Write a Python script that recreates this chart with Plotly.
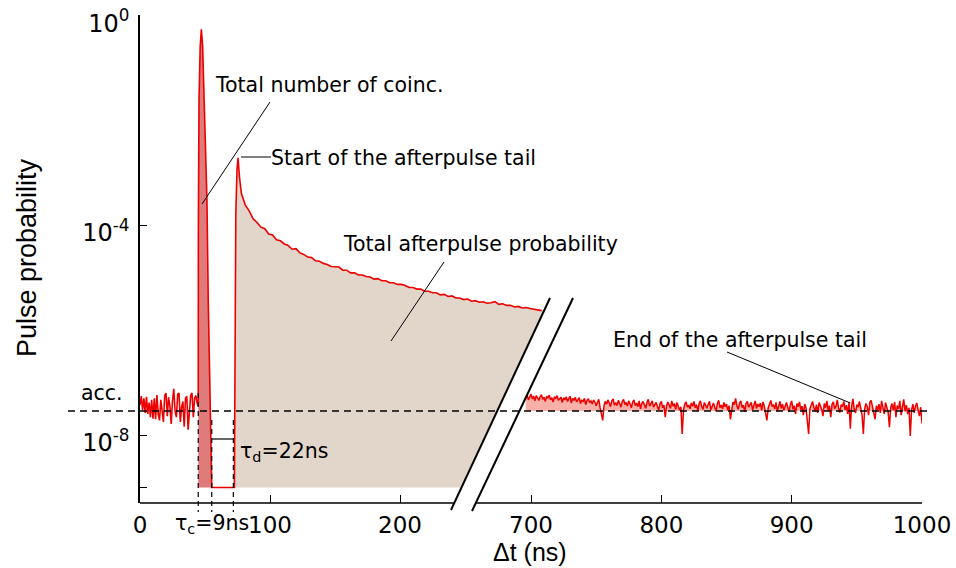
import plotly.graph_objects as go

# ---------------- data (log10 of the pulse probability) ----------------
# accidental background before the detection peak, Δt in ns
t_pre = list(range(0, 45))
logp_pre = [-7.43, -7.26, -7.52, -7.30, -7.58, -7.27, -7.60, -7.38, -7.66, -7.33,
            -7.69, -7.30, -7.70, -7.24, -7.60, -7.72, -7.33, -7.58, -7.75, -7.25,
            -7.20, -7.64, -7.28, -7.45, -7.79, -7.35, -7.12, -7.55, -7.66, -7.22,
            -7.20, -7.75, -7.47, -7.36, -7.84, -7.30, -7.26, -7.90, -7.62, -7.24,
            -7.20, -7.66, -7.30, -7.25, -7.40]

# coincidence peak
t_coinc = [44.8, 44.9, 45.4, 46.3, 47.2, 48.2, 49.2, 50.4, 51.5, 52.5, 53.8, 55.2]
logp_coinc = [-7.45, -4.00, -1.60, -0.60, -0.27, -0.60, -1.60, -2.60, -3.52, -5.43,
              -7.20, -9.00]

# dead time (no counts, shown on the floor)
t_dead = [55.2, 72.6]
logp_dead = [-9.0, -9.0]

# afterpulse tail
t_tail = [72.6, 73.1, 73.7, 74.6, 75.4, 76.5, 78, 81, 84, 87, 90, 93, 96, 99, 102, 105,
          108, 111, 114, 117, 120, 123, 126, 129, 132, 135, 138, 141, 144, 147, 150,
          153, 156, 159, 162, 165, 168, 171, 174, 177, 180, 183, 186, 189, 192, 195,
          198, 201, 204, 207, 210, 213, 216, 219, 222, 225, 228, 231, 234, 237, 240,
          243, 246, 249, 252, 255, 258, 261, 264, 267, 270, 273, 276, 279, 282, 285,
          288, 291, 294, 297, 300, 303, 306, 309]
logp_tail = [-9.00, -5.50, -3.80, -2.95, -2.72, -3.08, -3.40, -3.62, -3.73, -3.88,
             -3.95, -4.04, -4.07, -4.17, -4.19, -4.28, -4.30, -4.36, -4.39, -4.46,
             -4.45, -4.53, -4.56, -4.61, -4.62, -4.68, -4.69, -4.73, -4.75, -4.79,
             -4.80, -4.80, -4.86, -4.86, -4.91, -4.91, -4.95, -4.95, -4.98, -4.99,
             -5.03, -5.02, -5.06, -5.06, -5.10, -5.10, -5.13, -5.13, -5.15, -5.19,
             -5.19, -5.22, -5.22, -5.26, -5.26, -5.29, -5.29, -5.33, -5.32, -5.36,
             -5.35, -5.39, -5.39, -5.42, -5.41, -5.45, -5.44, -5.47, -5.46, -5.49,
             -5.48, -5.46, -5.51, -5.50, -5.53, -5.53, -5.56, -5.55, -5.58, -5.57,
             -5.59, -5.60, -5.61, -5.63]

# background far after the pulse, 1 ns bins
t_late = list(range(696, 1001))
logp_late = [
    -7.28, -7.24, -7.33, -7.27, -7.22, -7.31, -7.26, -7.35, -7.25, -7.29,
    -7.34, -7.27, -7.23, -7.32, -7.28, -7.36, -7.26, -7.30, -7.24, -7.33,
    -7.29, -7.37, -7.27, -7.31, -7.25, -7.34, -7.30, -7.28, -7.38, -7.29,
    -7.33, -7.27, -7.36, -7.31, -7.26, -7.39, -7.30, -7.34, -7.28, -7.37,
    -7.32, -7.29, -7.40, -7.33, -7.36, -7.30, -7.42, -7.34, -7.31, -7.38,
    -7.35, -7.41, -7.33, -7.37, -7.44, -7.36, -7.32, -7.48, -7.58, -7.72,
    -7.45, -7.36, -7.41, -7.33, -7.39, -7.46, -7.35, -7.31, -7.43, -7.38,
    -7.44, -7.34, -7.40, -7.47, -7.36, -7.32, -7.42, -7.38, -7.45, -7.35,
    -7.41, -7.48, -7.37, -7.33, -7.44, -7.39, -7.46, -7.35, -7.50, -7.40,
    -7.36, -7.43, -7.49, -7.38, -7.32, -7.45, -7.40, -7.35, -7.47, -7.42,
    -7.38, -7.46, -7.52, -7.40, -7.36, -7.48, -7.43, -7.66, -7.44, -7.37,
    -7.42, -7.49, -7.35, -7.45, -7.40, -7.51, -7.38, -7.44, -7.53, -7.46,
    -7.98, -7.52, -7.41, -7.37, -7.47, -7.43, -7.50, -7.39, -7.45, -7.36,
    -7.48, -7.42, -7.54, -7.40, -7.35, -7.46, -7.51, -7.38, -7.44, -7.49,
    -7.41, -7.36, -7.52, -7.45, -7.39, -7.47, -7.55, -7.40, -7.34, -7.48,
    -7.43, -7.50, -7.38, -7.46, -7.41, -7.53, -7.44, -7.70, -7.47, -7.37,
    -7.42, -7.30, -7.45, -7.51, -7.39, -7.35, -7.48, -7.43, -7.56, -7.40,
    -7.36, -7.47, -7.42, -7.38, -7.52, -7.44, -7.35, -7.49, -7.41, -7.46,
    -7.39, -7.53, -7.37, -7.45, -7.60, -7.72, -7.48, -7.40, -7.34, -7.46,
    -7.42, -7.50, -7.38, -7.55, -7.44, -7.36, -7.49, -7.41, -7.53, -7.45,
    -7.38, -7.47, -7.56, -7.42, -7.35, -7.51, -7.44, -7.60, -7.40, -7.46,
    -7.37, -7.52, -7.45, -7.62, -7.41, -7.48, -7.70, -7.98, -7.50, -7.43,
    -7.36, -7.47, -7.55, -7.42, -7.58, -7.38, -7.46, -7.51, -7.64, -7.40,
    -7.48, -7.35, -7.53, -7.44, -7.66, -7.41, -7.37, -7.50, -7.45, -7.33,
    -7.49, -7.57, -7.42, -7.46, -7.36, -7.52, -7.43, -7.60, -7.38, -7.88,
    -7.45, -7.31, -7.50, -7.58, -7.42, -7.47, -7.36, -7.53, -7.62, -7.98,
    -7.50, -7.40, -7.46, -7.62, -7.37, -7.34, -7.48, -7.55, -7.70, -7.44,
    -7.52, -7.41, -7.58, -7.35, -7.47, -7.60, -7.38, -7.45, -7.56, -7.85,
    -7.48, -7.40, -7.53, -7.37, -7.66, -7.44, -7.50, -7.35, -7.62, -7.46,
    -7.32, -7.55, -7.43, -7.60, -7.48, -8.02, -7.52, -7.41, -7.58, -7.45,
    -7.39, -7.52, -7.64, -7.47, -7.78]

LOG_ACC = -7.543      # accidental level
LOG_FLOOR = -9.0      # floor used for "no counts"
TAU_C_EDGES = [44.8, 55.2]   # coincidence window
TAU_D_END = 71.8             # end of dead time

y_ticks = [1, 1e-4, 1e-8, 1e-9]
y_ticktext = ["10<sup>0</sup>", "10<sup>-4</sup>", "10<sup>-8</sup>", ""]
x_left_ticks = [0, 100, 200]
x_right_ticks = [700, 800, 900, 1000]

# ---------------- geometry of the figure ----------------
W, H = 956, 568
PL, PR, PT, PB = 140, 922, 15, 503          # plot area in pixels
Y_RANGE = [-9.295, 0.0]
LEFT_END_PX = 550
RIGHT_START_PX = 475.8
LEFT_RANGE = [0, (LEFT_END_PX - PL) / 1.3]
RIGHT_RANGE = [1000 - (PR - RIGHT_START_PX) / 1.30333, 1000]

# axis-break strokes (pixel end points)
BREAK1 = ((451, 510), (550, 298))
BREAK2 = ((472, 511), (573, 298))


def fx(x):  # pixel -> paper x
    return (x - PL) / (PR - PL)


def fy(y):  # pixel -> paper y
    return (PB - y) / (PB - PT)


def left_px(t):
    return PL + (t - LEFT_RANGE[0]) / (LEFT_RANGE[1] - LEFT_RANGE[0]) * (LEFT_END_PX - PL)


def left_t(xp):
    return LEFT_RANGE[0] + (xp - PL) / (LEFT_END_PX - PL) * (LEFT_RANGE[1] - LEFT_RANGE[0])


def right_px(t):
    return RIGHT_START_PX + (t - RIGHT_RANGE[0]) / (RIGHT_RANGE[1] - RIGHT_RANGE[0]) * (PR - RIGHT_START_PX)


def log_py(lg):
    return PB - (lg - Y_RANGE[0]) / (Y_RANGE[1] - Y_RANGE[0]) * (PB - PT)


def break1_x_at(ypix):
    (x0, y0), (x1, y1) = BREAK1
    return x0 + (ypix - y0) * (x1 - x0) / (y1 - y0)


RED = "#ee0000"
COINC_FILL = "#e07b7b"
TAIL_FILL = "#e2d5ca"
LATE_FILL = "#f8b0a8"

p = lambda arr: [10 ** v for v in arr]
acc = 10 ** LOG_ACC
floor = 10 ** LOG_FLOOR

fig = go.Figure()

# coincidence peak area
fig.add_trace(go.Scatter(
    x=[t_coinc[0]] + t_coinc, y=[floor] + p(logp_coinc),
    fill="toself", fillcolor=COINC_FILL, mode="lines",
    line=dict(width=0), hoverinfo="skip", showlegend=False))

# afterpulse area, cut along the first break stroke
t_cut_top = left_t(break1_x_at(log_py(logp_tail[-1])))
t_cut_bot = left_t(break1_x_at(log_py(LOG_FLOOR)))
fig.add_trace(go.Scatter(
    x=t_tail + [t_cut_top, t_cut_bot],
    y=p(logp_tail) + [10 ** logp_tail[-1], floor],
    fill="toself", fillcolor=TAIL_FILL, mode="lines",
    line=dict(width=0), hoverinfo="skip", showlegend=False))

# measured histogram, first part
t_all = t_pre + t_coinc + t_dead + t_tail
lp_all = logp_pre + logp_coinc + logp_dead + logp_tail
fig.add_trace(go.Scatter(x=t_all, y=p(lp_all), mode="lines",
                         line=dict(color=RED, width=1.6), showlegend=False))

# late background with excess over the accidental level
fig.add_trace(go.Scatter(x=t_late, y=[acc] * len(t_late), mode="lines",
                         line=dict(width=0), xaxis="x2", yaxis="y",
                         hoverinfo="skip", showlegend=False))
fig.add_trace(go.Scatter(x=t_late, y=[max(10 ** v, acc) for v in logp_late],
                         mode="lines", line=dict(width=0), fill="tonexty",
                         fillcolor=LATE_FILL, xaxis="x2", yaxis="y",
                         hoverinfo="skip", showlegend=False))
fig.add_trace(go.Scatter(x=t_late, y=p(logp_late), mode="lines",
                         line=dict(color=RED, width=1.5), xaxis="x2", yaxis="y",
                         showlegend=False))

TICK_FONT = dict(family="DejaVu Sans", size=23, color="black")
Y_TICK_FONT = dict(family="DejaVu Sans", size=24, color="black")
ANN_FONT = dict(family="DejaVu Sans", size=20.5, color="black")

fig.update_layout(
    width=W, height=H, autosize=False,
    margin=dict(l=PL, r=W - PR, t=PT, b=H - PB, pad=0, autoexpand=False),
    paper_bgcolor="white", plot_bgcolor="rgba(0,0,0,0)",
    xaxis=dict(domain=[0, fx(LEFT_END_PX)], range=LEFT_RANGE, anchor="y",
               showline=False, showgrid=False, zeroline=False, automargin=False,
               tickmode="array", tickvals=x_left_ticks, ticks="inside",
               ticklen=8, tickwidth=1, tickcolor="black", tickfont=TICK_FONT,
               ticklabelstandoff=6),
    xaxis2=dict(domain=[fx(RIGHT_START_PX), 1], range=RIGHT_RANGE, anchor="y",
                showline=False, showgrid=False, zeroline=False, automargin=False,
                tickmode="array", tickvals=x_right_ticks, ticks="inside",
                ticklen=8, tickwidth=1, tickcolor="black", tickfont=TICK_FONT,
                ticklabelstandoff=6),
    yaxis=dict(type="log", range=[Y_RANGE[0], Y_RANGE[1] + 0.002], domain=[0, 1],
               anchor="x", showline=True, linecolor="black", linewidth=1.5,
               showgrid=False, zeroline=False, automargin=False,
               tickmode="array", tickvals=y_ticks, ticktext=y_ticktext,
               ticks="inside", ticklen=7, tickwidth=1, tickcolor="black",
               tickfont=Y_TICK_FONT, ticklabelstandoff=4, ticklabelshift=8,
               ticklabeloverflow="allow"),
)

shapes = []
line_k = dict(color="black", width=1.5)
# bottom axis lines, interrupted by the break
shapes.append(dict(type="line", xref="paper", yref="paper",
                   x0=0, x1=fx(break1_x_at(PB)), y0=0, y1=0, line=line_k))
shapes.append(dict(type="line", xref="paper", yref="paper",
                   x0=fx(RIGHT_START_PX), x1=1, y0=0, y1=0, line=line_k))
# break strokes
for (a, b) in (BREAK1, BREAK2):
    shapes.append(dict(type="line", xref="paper", yref="paper",
                       x0=fx(a[0]), y0=fy(a[1]), x1=fx(b[0]), y1=fy(b[1]),
                       line=dict(color="black", width=2)))
# accidental level
shapes.append(dict(type="line", xref="paper", yref="paper",
                   x0=fx(68), x1=fx(932), y0=fy(log_py(LOG_ACC)), y1=fy(log_py(LOG_ACC)),
                   line=dict(color="black", width=1.6, dash="7px,5px")))
# coincidence window and dead time markers
for t, ytop in ((TAU_C_EDGES[0], 393), (TAU_C_EDGES[1], 420), (TAU_D_END, 420)):
    shapes.append(dict(type="line", xref="paper", yref="paper",
                       x0=fx(left_px(t)), x1=fx(left_px(t)), y0=fy(ytop), y1=fy(512),
                       line=dict(color="black", width=1.2, dash="5px,4px")))
shapes.append(dict(type="line", xref="paper", yref="paper",
                   x0=fx(left_px(TAU_C_EDGES[1])), x1=fx(left_px(TAU_D_END)),
                   y0=fy(439), y1=fy(439), line=dict(color="black", width=1.2)))
# pointer lines of the labels
pointers = [((270, 102), (left_px(47.7), log_py(-3.6))),
            ((241, 157), (271, 157)),
            ((444, 262), (391, 341)),
            ((727, 352), (right_px(945), 403))]
for (a, b) in pointers:
    shapes.append(dict(type="line", xref="paper", yref="paper",
                       x0=fx(a[0]), y0=fy(a[1]), x1=fx(b[0]), y1=fy(b[1]),
                       line=dict(color="black", width=1)))
fig.update_layout(shapes=shapes)

anns = []


def label(text, xp, yp, xanchor="left", font=ANN_FONT, angle=0):
    anns.append(dict(text=text, x=fx(xp), y=fy(yp), xref="paper", yref="paper",
                     xanchor=xanchor, yanchor="middle", showarrow=False,
                     font=font, textangle=angle))


label("Total number of coinc.", 213, 85)
label("Start of the afterpulse tail", 269, 158)
label("Total afterpulse probability", 341, 244)
label("End of the afterpulse tail", 611, 340)
label("acc.", 79, 393)
label("τ<sub>d</sub>=22ns", 238, 452)
label("τ<sub>c</sub>=9ns", 173, 524)
label("Δt (ns)", 530, 552, xanchor="center",
      font=dict(family="Liberation Sans", size=25, color="black"))
label("Pulse probability", 27, 258, xanchor="center",
      font=dict(family="Liberation Sans", size=27, color="black"), angle=-90)
fig.update_layout(annotations=anns)

fig.write_html("out.html")
